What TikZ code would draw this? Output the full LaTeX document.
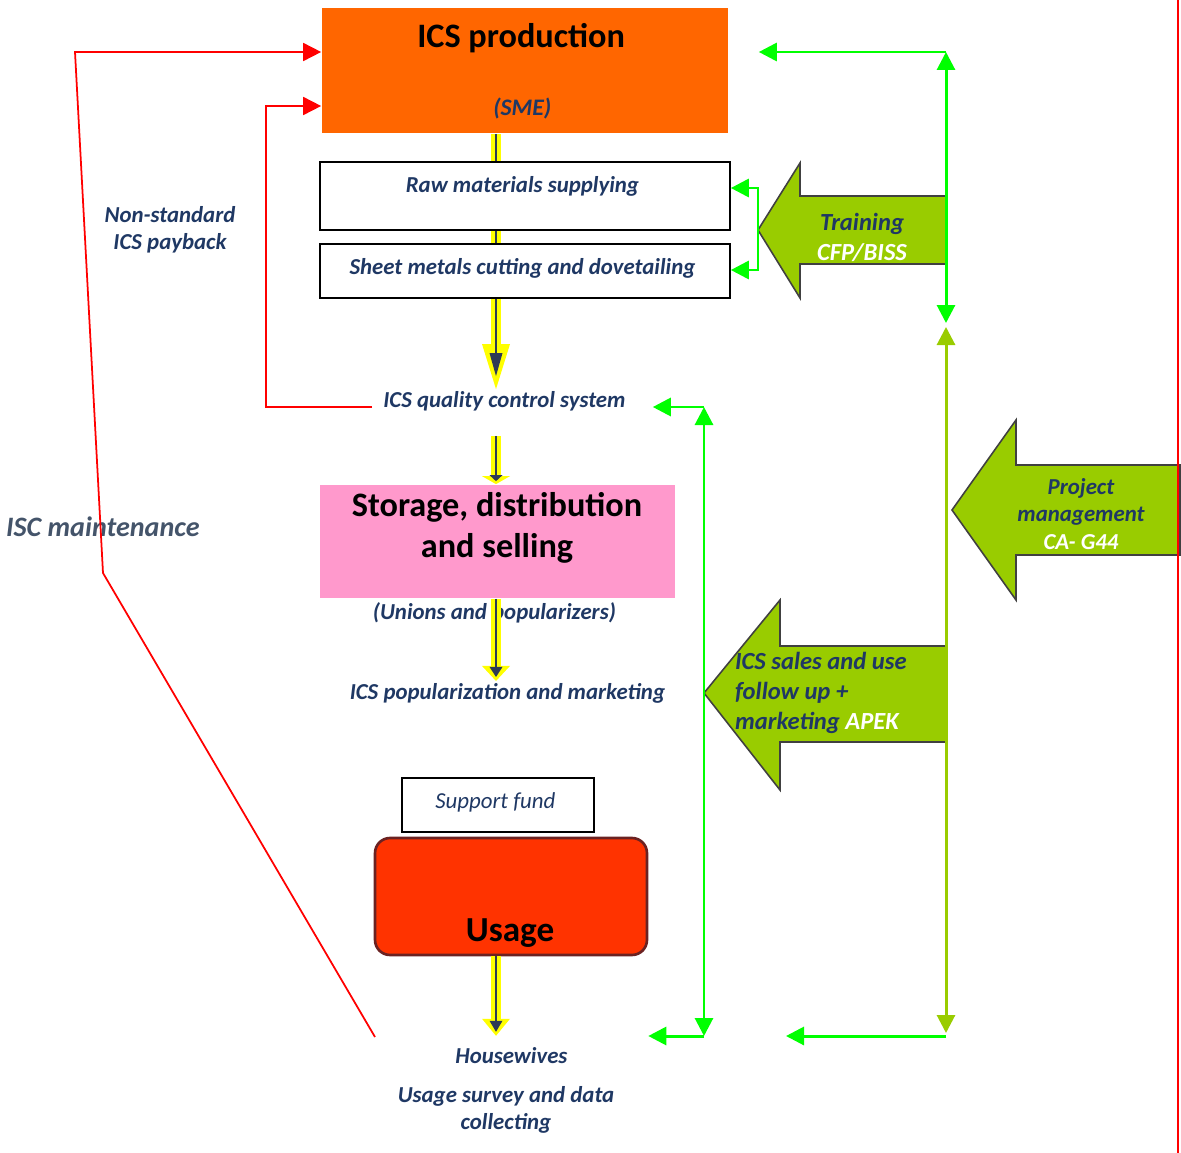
\documentclass[tikz,border=0pt]{standalone}
\usepackage{fontspec}
\setmainfont{Carlito}
\usetikzlibrary{arrows.meta,backgrounds}
\definecolor{smeorange}{HTML}{FF6600}
\definecolor{storepink}{HTML}{FF99CC}
\definecolor{usagered}{HTML}{FF3300}
\definecolor{usageedge}{HTML}{6B2222}
\definecolor{actolive}{HTML}{99CC00}
\definecolor{linkgreen}{HTML}{00FF00}
\definecolor{loopred}{HTML}{FF0000}
\definecolor{labelnavy}{HTML}{1F3864}
\definecolor{maintgrey}{HTML}{44546A}
\definecolor{glowyellow}{HTML}{FFFF00}
\definecolor{flowdark}{HTML}{2E3B55}
\tikzset{
	lbl/.style={font=\fontsize{13}{15.5}\selectfont\bfseries\itshape, text=labelnavy, align=center, inner sep=1pt},
	head/.style={font=\fontsize{19.5}{23.5}\selectfont\bfseries, text=black, align=center, inner sep=1pt},
	box/.style={draw=black, line width=1pt, fill=white, inner sep=0pt},
	bigarrow/.style={fill=actolive, draw=black!75, line width=0.9pt, line join=miter},
	gline/.style={draw=linkgreen, line width=1.7pt},
	oline/.style={draw=actolive, line width=1.7pt},
	redline/.style={draw=loopred, line width=1pt},
	glow/.style={draw=glowyellow, line width=6pt, -{Triangle[length=#1, width=0.56cm, line width=0pt]}},
	core/.style={draw=flowdark, line width=1.4pt, -{Triangle[length=#1, width=0.26cm, line width=0pt]}}
}

\begin{document}
\begin{tikzpicture}[ x=0.02cm, y=-0.02cm, >={Triangle[length=0.36cm, width=0.36cm]} ]
	\useasboundingbox (0,0) rectangle (1181,1153);
	\coordinate (ax) at (496,0);

	% the action arrows
	\draw [ bigarrow ] (758,230) -- (800,163) -- (800,196) -- (946,196)
		-- (946,264) -- (800,264) -- (800,298) -- cycle;
	\draw [ bigarrow ] (952,510) -- (1016,420) -- (1016,465) -- (1180,465)
		-- (1180,555) -- (1016,555) -- (1016,600) -- cycle;
	\draw [ bigarrow ] (704,693) -- (780,600) -- (780,646) -- (946,646)
		-- (946,742) -- (780,742) -- (780,790) -- cycle;
	\node [ lbl, font=\fontsize{14}{17.5}\selectfont\bfseries\itshape ] (train) at (862,237.5)
		{ Training \\ \textcolor{white}{CFP/BISS} };
	\node [ lbl ] (manage) at (1081,514)
		{ Project \\ management \\ \textcolor{white}{CA- G44} };
	\node [ lbl, align=left, anchor=west, font=\fontsize{14}{17}\selectfont\bfseries\itshape ] (sales) at (733,693)
		{ ICS sales and use \\ follow up + \\ marketing \textcolor{white}{APEK} };

	% the chain
	\node [ box, fill=smeorange, draw=none, minimum width=8.12cm, minimum height=2.5cm ] (prod) at (525,70.5) {};
	\node [ head ] (prodname) at (525,38) { ICS production };
	\node [ lbl, font=\fontsize{13.5}{16}\selectfont\bfseries\itshape ] (sme) at (525,108) { (SME) };
	\node [ box, minimum width=8.2cm, minimum height=1.36cm ] (raw) at (525,196) {};
	\node [ lbl ] (rawname) at (525,186) { Raw materials supplying };
	\node [ box, minimum width=8.2cm, minimum height=1.08cm ] (sheet) at (525,271) {};
	\node [ lbl ] (sheetname) at (525,268) { Sheet metals cutting and dovetailing };
	\node [ lbl ] (qc) at (507,401) { ICS quality control system };
	\node [ box, fill=storepink, draw=none, minimum width=7.1cm, minimum height=2.26cm ] (store) at (497.5,541.5) {};
	\node [ head ] (storename) at (497,527.5)
		{ Storage, distribution \\ and selling };
	\node [ lbl ] (unions) at (497,613) { (Unions and popularizers) };
	\node [ lbl ] (popul) at (510,693) { ICS popularization and marketing };
	\node [ box, minimum width=3.84cm, minimum height=1.08cm ] (fund) at (498,805) {};
	\node [ lbl, font=\fontsize{13}{15.5}\selectfont\itshape ] (fundname) at (498,802) { Support fund };
	\node [ box, fill=usagered, draw=usageedge, line width=1.5pt, rounded corners=0.3cm,
		minimum width=5.44cm, minimum height=2.34cm ] (usage) at (511,896.5) {};
	\node [ head, font=\fontsize{20}{23}\selectfont\bfseries ] (usagename) at (514,933) { Usage };
	\node [ lbl ] (house) at (514,1056) { Housewives };
	\node [ lbl ] (survey) at (506,1110) { Usage survey and data \\ collecting };
	\node [ lbl ] (payback) at (170,229.5) { Non-standard \\ ICS payback };
	\node [ lbl, font=\fontsize{16}{19}\selectfont\bfseries\itshape, text=maintgrey ] (maint) at (106,527)
		{ ISC maintenance };

	% yellow flow
	\begin{pgfonlayer}{background}
		\draw [ glow=0.9cm ] (prod.south -| ax) to (qc.north -| ax);
		\draw [ core=0.46cm, shorten >=0.26cm ] (prod.south -| ax) to (qc.north -| ax);
	\end{pgfonlayer}
	\draw [ glow=0.16cm, shorten <=0.46cm ] (qc.south -| ax) to (store.north -| ax);
	\draw [ core=0.12cm, shorten <=0.46cm, shorten >=0.06cm ] (qc.south -| ax) to (store.north -| ax);
	\draw [ glow=0.3cm ] (store.south -| ax) to (popul.north -| ax);
	\draw [ core=0.2cm, shorten >=0.08cm ] (store.south -| ax) to (popul.north -| ax);
	\draw [ glow=0.34cm, shorten >=0.2cm ] (usage.south -| ax) to (house.north -| ax);
	\draw [ core=0.22cm, shorten >=0.28cm ] (usage.south -| ax) to (house.north -| ax);

	% red feedback
	\coordinate (r0) at (375,1037);
	\coordinate (r1) at (103,573);
	\coordinate (r2) at (75,52);
	\coordinate (r3) at (266,407);
	\coordinate (r4) at (266,106);
	\draw [ redline, -> ] (r0) -- (r1) -- (r2) -- (prod.west |- r2);
	\draw [ redline, ->, shorten <=0.18cm ] (qc.west |- r3) -- (r3) -- (r4) -- (prod.west |- r4);
	\coordinate (e1) at (1178,0);
	\coordinate (e2) at (1178,1153);
	\draw [ redline ] (e1) -- (e2);

	% green links
	\coordinate (g1) at (946,52);
	\coordinate (g2) at (946,323);
	\draw [ gline, <-> ] (g1) -- (g2);
	\draw [ gline, ->, shorten >=0.6cm ] (g1) -- (prod.east |- g1);
	\coordinate (b1) at (758,188);
	\coordinate (b2) at (758,270);
	\draw [ gline, -> ] (b2) -- (b1) -- (raw.east |- b1);
	\draw [ gline, -> ] (b1) -- (b2) -- (sheet.east |- b2);
	\coordinate (s1) at (704,407);
	\coordinate (s2) at (704,1036);
	\draw [ gline, <-> ] (s1) -- (s2);
	\draw [ gline, ->, shorten >=0.4cm ] (s1) -- (qc.east |- s1);
	\draw [ gline, -> ] (s2) -- (usage.east |- s2);
	\coordinate (p1) at (946,327);
	\coordinate (p2) at (946,1033);
	\coordinate (pend) at (786,1036);
	\draw [ oline, <-> ] (p1) -- (p2);
	\draw [ gline, -> ] (p2 |- pend) -- (pend);
\end{tikzpicture}
\end{document}
